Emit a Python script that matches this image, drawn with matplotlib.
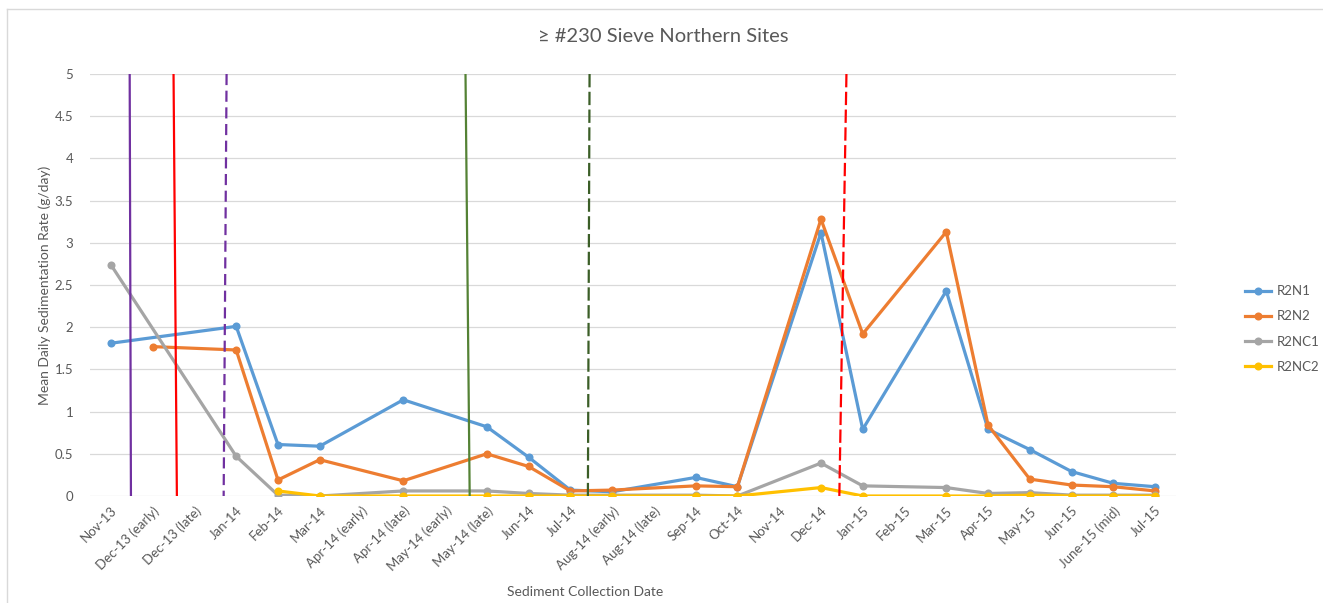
import numpy as np
import matplotlib
matplotlib.use("Agg")
import matplotlib.pyplot as plt
from matplotlib.lines import Line2D

plt.rcParams['font.family'] = ['Lato', 'DejaVu Sans']

categories = ["Nov-13", "Dec-13 (early)", "Dec-13 (late)", "Jan-14", "Feb-14", "Mar-14",
              "Apr-14 (early)", "Apr-14 (late)", "May-14 (early)", "May-14 (late)", "Jun-14",
              "Jul-14", "Aug-14 (early)", "Aug-14 (late)", "Sep-14", "Oct-14", "Nov-14",
              "Dec-14", "Jan-15", "Feb-15", "Mar-15", "Apr-15", "May-15", "Jun-15",
              "June-15 (mid)", "Jul-15"]

N = None
r2n1 = [1.81, N, N, 2.01, 0.61, 0.59, N, 1.14, N, 0.82, 0.46, 0.07, 0.05, N, 0.22, 0.11, N,
        3.12, 0.79, N, 2.43, 0.79, 0.55, 0.29, 0.15, 0.11]
r2n2 = [N, 1.77, N, 1.73, 0.19, 0.43, N, 0.18, N, 0.50, 0.35, 0.06, 0.07, N, 0.12, 0.11, N,
        3.28, 1.92, N, 3.13, 0.84, 0.20, 0.13, 0.11, 0.06]
r2nc1 = [2.74, N, N, 0.47, 0.01, 0.0, N, 0.06, N, 0.06, 0.03, 0.01, 0.01, N, 0.01, 0.0, N,
         0.39, 0.12, N, 0.10, 0.03, 0.04, 0.01, 0.01, 0.01]
r2nc2 = [N, N, N, N, 0.06, 0.0, N, 0.0, N, 0.0, 0.0, 0.0, 0.0, N, 0.0, 0.0, N,
         0.10, 0.0, N, 0.0, 0.0, 0.01, 0.0, 0.0, 0.0]

series_names = ["R2N1", "R2N2", "R2NC1", "R2NC2"]
series_values = [r2n1, r2n2, r2nc1, r2nc2]
series_colors = ["#5B9BD5", "#ED7D31", "#A5A5A5", "#FFC000"]

# event marker lines (category position at top and bottom of plot area)
event_top = [0.45, 1.50, 2.77, 8.49, 11.46, 17.61]
event_bottom = [0.48, 1.58, 2.70, 8.59, 11.42, 17.44]
event_colors = ["#7030A0", "#FF0000", "#7030A0", "#548235", "#3B5E27", "#FF0000"]
event_styles = ["solid", "solid", (0, (5, 2.5)), "solid", (0, (6, 2)), (0, (6, 2))]

yticks = [0, 0.5, 1, 1.5, 2, 2.5, 3, 3.5, 4, 4.5, 5]
ytick_labels = ["0", "0.5", "1", "1.5", "2", "2.5", "3", "3.5", "4", "4.5", "5"]

W, H = 1323, 603
fig = plt.figure(figsize=(W / 100, H / 100), dpi=100)
ax = fig.add_axes([90 / W, 1 - 496 / H, (1176 - 90) / W, (496 - 74) / H])

x = np.arange(len(categories))
text_col = "#595959"

for name, vals, col in zip(series_names, series_values, series_colors):
    xs = [xi for xi, v in zip(x, vals) if v is not None]
    ys = [v for v in vals if v is not None]
    ax.plot(xs, ys, color=col, lw=2.3, marker='o', markersize=5.8,
            markeredgewidth=0, label=name, zorder=3, solid_capstyle='round')

for xt, xb, c, ls in zip(event_top, event_bottom, event_colors, event_styles):
    ax.plot([xt, xb], [5, 0], color=c, lw=1.6, linestyle=ls, zorder=4)

ax.set_xlim(-0.5, len(categories) - 0.5)
ax.set_ylim(0, 5)
ax.set_yticks(yticks)
ax.set_yticklabels(ytick_labels)
ax.set_xticks(x)
ax.set_xticklabels(categories, rotation=45, ha='right', rotation_mode='anchor')
ax.tick_params(axis='both', length=0, colors=text_col, labelsize=9.5)
ax.tick_params(axis='y', pad=12)
ax.tick_params(axis='x', pad=6)
ax.grid(axis='y', color='#D9D9D9', lw=0.9)
ax.set_axisbelow(True)
for s in ax.spines.values():
    s.set_visible(False)

fig.text(663 / W, 1 - 37 / H, "≥ #230 Sieve Northern Sites", ha='center', va='center',
         fontsize=14.5, color=text_col)
fig.text(585 / W, 1 - 592 / H, "Sediment Collection Date", ha='center', va='center',
         fontsize=10, color=text_col)
fig.text(45 / W, 1 - 285 / H, "Mean Daily Sedimentation Rate (g/day)", ha='center',
         va='center', rotation=90, fontsize=10, color=text_col)

handles = [Line2D([0], [0], color=c, lw=2.3, marker='o', markersize=5.8, markeredgewidth=0)
           for c in series_colors]
leg = fig.legend(handles, series_names, loc='center left',
                 bbox_to_anchor=(1245 / W, 1 - 329 / H), frameon=False, borderpad=0,
                 borderaxespad=0, fontsize=9.5, handlelength=2.0, handletextpad=0.4,
                 labelspacing=1.0)
for t in leg.get_texts():
    t.set_color(text_col)

# chart border (top and left edges visible)
fig.add_artist(Line2D([7 / W, 1.0], [1 - 9 / H, 1 - 9 / H], color='#D9D9D9', lw=1,
                      transform=fig.transFigure))
fig.add_artist(Line2D([7 / W, 7 / W], [0, 1 - 9 / H], color='#D9D9D9', lw=1,
                      transform=fig.transFigure))

fig.savefig("out.png", dpi=100, facecolor='white')
